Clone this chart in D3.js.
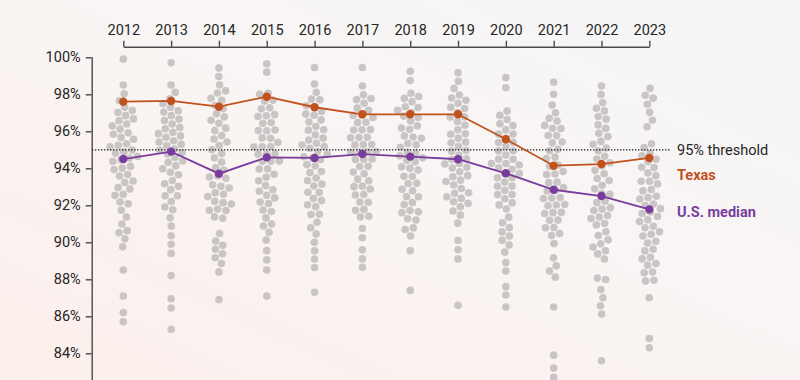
<!DOCTYPE html>
<html>
<head>
<meta charset="utf-8">
<script src="https://cdn.jsdelivr.net/npm/d3@7"></script>
<style>
  html, body { margin: 0; padding: 0; background: #f8f4f3; }
  svg { display: block; }
</style>
</head>
<body>
<svg id="chart" width="800" height="380"></svg>
<script>
// ---------- DATA ----------
const years = [2012, 2013, 2014, 2015, 2016, 2017, 2018, 2019, 2020, 2021, 2022, 2023];
const texas    = [97.6, 97.64, 97.33, 97.87, 97.3, 96.92, 96.92, 96.92, 95.57, 94.14, 94.23, 94.56];
const usMedian = [94.5, 94.9, 93.71, 94.59, 94.56, 94.77, 94.63, 94.49, 93.73, 92.84, 92.5, 91.78];
const threshold = 95;
const yTickValues = [84, 86, 88, 90, 92, 94, 96, 98, 100];

const states2012 = [99.9, 98.5, 98.0, 97.6, 97.2, 97.1, 96.9, 96.8, 96.6, 96.5, 96.4, 96.2, 96.1, 96.0, 95.8, 95.7, 95.5, 95.4, 95.3, 95.1, 95.0, 94.9, 94.8, 94.7, 94.6, 94.5, 94.4, 94.2, 94.1, 93.9, 93.7, 93.6, 93.4, 93.2, 93.0, 92.8, 92.6, 92.5, 92.3, 92.1, 91.7, 91.4, 91.0, 90.6, 90.5, 90.2, 89.8, 88.5, 87.1, 86.2, 85.7];
const states2013 = [99.7, 98.5, 98.0, 97.6, 97.4, 97.2, 97.1, 96.9, 96.8, 96.6, 96.5, 96.4, 96.2, 96.1, 96.0, 95.8, 95.7, 95.6, 95.5, 95.4, 95.3, 95.2, 95.1, 95.0, 94.95, 94.9, 94.8, 94.6, 94.4, 94.2, 94.0, 93.8, 93.6, 93.4, 93.2, 93.0, 92.8, 92.6, 92.4, 92.2, 92.0, 91.75, 91.35, 90.9, 90.35, 89.9, 89.4, 88.2, 86.95, 86.45, 85.3];
const states2014 = [99.4, 98.95, 98.5, 98.15, 98.05, 97.8, 97.6, 97.4, 97.2, 97.0, 96.8, 96.6, 96.4, 96.2, 96.0, 95.8, 95.6, 95.4, 95.2, 95.0, 94.8, 94.6, 94.3, 94.0, 93.8, 93.7, 93.6, 93.4, 93.2, 93.0, 92.9, 92.7, 92.6, 92.4, 92.3, 92.1, 92.0, 91.8, 91.75, 91.7, 91.45, 91.4, 90.45, 90.05, 89.85, 89.6, 89.4, 89.15, 88.9, 88.4, 86.9];
const states2015 = [99.65, 99.2, 98.0, 97.9, 97.7, 97.5, 97.3, 97.2, 97.0, 96.9, 96.7, 96.5, 96.4, 96.2, 96.0, 95.9, 95.7, 95.5, 95.4, 95.2, 95.1, 95.0, 94.9, 94.8, 94.7, 94.6, 94.5, 94.3, 94.1, 93.9, 93.7, 93.5, 93.3, 93.1, 92.9, 92.7, 92.5, 92.4, 92.2, 92.0, 91.75, 91.7, 91.4, 91.05, 90.85, 90.55, 90.15, 89.55, 89.05, 88.5, 87.1];
const states2016 = [99.45, 98.55, 98.0, 97.75, 97.6, 97.4, 97.25, 97.1, 96.9, 96.8, 96.6, 96.5, 96.3, 96.2, 96.0, 95.8, 95.7, 95.5, 95.4, 95.2, 95.1, 95.0, 94.9, 94.75, 94.65, 94.55, 94.45, 94.3, 94.1, 93.9, 93.7, 93.5, 93.4, 93.2, 93.0, 92.8, 92.6, 92.4, 92.3, 92.1, 91.95, 91.55, 91.5, 91.05, 90.8, 90.45, 90.0, 89.55, 89.1, 88.65, 87.3];
const states2017 = [99.45, 98.45, 97.8, 97.7, 97.6, 97.45, 97.3, 97.15, 97.0, 96.85, 96.7, 96.55, 96.4, 96.25, 96.1, 95.95, 95.8, 95.65, 95.5, 95.35, 95.2, 95.1, 95.0, 94.9, 94.85, 94.77, 94.65, 94.5, 94.35, 94.2, 94.0, 93.85, 93.7, 93.5, 93.35, 93.2, 93.0, 92.85, 92.65, 92.5, 92.3, 92.1, 91.75, 91.7, 91.5, 91.45, 90.75, 90.25, 89.6, 89.1, 88.65];
const states2018 = [99.25, 98.75, 98.0, 97.8, 97.7, 97.55, 97.4, 97.25, 97.1, 96.95, 96.8, 96.65, 96.5, 96.35, 96.2, 96.0, 95.85, 95.7, 95.55, 95.4, 95.25, 95.1, 94.95, 94.8, 94.7, 94.63, 94.5, 94.35, 94.2, 94.0, 93.8, 93.6, 93.45, 93.3, 93.1, 92.9, 92.75, 92.6, 92.4, 92.25, 92.05, 91.8, 91.65, 91.6, 91.3, 91.15, 90.85, 90.7, 90.35, 89.55, 87.4];
const states2019 = [99.15, 98.7, 98.25, 97.95, 97.75, 97.6, 97.45, 97.3, 97.15, 97.0, 96.85, 96.7, 96.5, 96.3, 96.1, 95.95, 95.8, 95.6, 95.45, 95.3, 95.1, 95.0, 94.85, 94.7, 94.55, 94.49, 94.4, 94.25, 94.1, 93.95, 93.8, 93.65, 93.5, 93.35, 93.2, 93.05, 92.9, 92.8, 92.65, 92.5, 92.4, 92.3, 92.15, 92.0, 91.7, 91.55, 91.05, 90.1, 89.6, 89.1, 86.6];
const states2020 = [98.9, 98.35, 97.05, 96.8, 96.6, 96.35, 96.2, 96.05, 95.9, 95.75, 95.6, 95.45, 95.3, 95.15, 95.0, 94.85, 94.7, 94.55, 94.45, 94.3, 94.2, 94.1, 94.0, 93.9, 93.8, 93.73, 93.6, 93.45, 93.3, 93.15, 93.0, 92.85, 92.7, 92.55, 92.4, 92.25, 92.05, 91.75, 91.45, 91.05, 90.8, 90.55, 90.35, 90.1, 89.85, 89.5, 88.9, 88.45, 87.6, 87.15, 86.5];
const states2021 = [98.65, 98.0, 97.35, 97.0, 96.6, 96.5, 96.35, 96.2, 96.0, 95.85, 95.7, 95.5, 95.3, 95.1, 94.9, 94.7, 94.5, 94.3, 94.1, 93.9, 93.7, 93.5, 93.3, 93.1, 92.95, 92.84, 92.7, 92.55, 92.45, 92.3, 92.15, 92.05, 91.8, 91.7, 91.55, 91.5, 91.3, 91.05, 91.0, 90.8, 90.55, 90.35, 89.95, 89.15, 88.7, 88.45, 88.15, 86.5, 83.9, 83.2, 82.7];
const states2022 = [98.45, 97.95, 97.5, 97.15, 97.1, 96.8, 96.75, 96.35, 96.1, 95.9, 95.7, 95.5, 95.3, 95.1, 94.9, 94.7, 94.5, 94.3, 94.1, 93.9, 93.7, 93.5, 93.3, 93.1, 92.9, 92.7, 92.4, 92.2, 92.0, 91.85, 91.7, 91.65, 91.6, 91.45, 91.35, 91.05, 90.95, 90.75, 90.4, 90.1, 89.85, 89.8, 89.6, 89.35, 89.15, 88.05, 88.0, 87.4, 87.0, 86.6, 86.15, 83.6];
const states2023 = [98.3, 97.95, 97.8, 97.4, 97.05, 96.6, 96.3, 95.3, 95.0, 94.75, 94.65, 94.45, 94.35, 94.1, 93.95, 93.8, 93.55, 93.4, 93.3, 93.15, 93.0, 92.7, 92.5, 92.35, 92.2, 92.05, 91.9, 91.75, 91.7, 91.55, 91.4, 91.25, 91.2, 90.85, 90.8, 90.75, 90.5, 90.4, 90.0, 89.9, 89.6, 89.5, 89.2, 89.1, 88.9, 88.85, 88.4, 88.35, 88.0, 87.95, 87.0, 84.8, 84.3];

const statesByYear = [states2012, states2013, states2014, states2015, states2016, states2017,
                      states2018, states2019, states2020, states2021, states2022, states2023];

// ---------- CHART ----------
const W = 800, H = 380;
const svg = d3.select("#chart");
const FONT = "Roboto, 'Noto Sans', sans-serif";
const TEXAS_C = "#c2521d";
const US_C = "#7a3d9e";
const DOT_C = "#c9c5c4";
const AXIS_C = "#4a4a4a";

// background gradient
const defs = svg.append("defs");
const grad = defs.append("linearGradient").attr("id", "bg")
  .attr("x1", "0").attr("y1", "1").attr("x2", "1").attr("y2", "0");
grad.append("stop").attr("offset", "0").attr("stop-color", "#fcefeb");
grad.append("stop").attr("offset", "0.55").attr("stop-color", "#f9f5f4");
grad.append("stop").attr("offset", "1").attr("stop-color", "#f5f5f6");
svg.append("rect").attr("width", W).attr("height", H).attr("fill", "url(#bg)");

const x = d3.scalePoint().domain(years).range([123.3, 649.3]);
const y = d3.scaleLinear().domain([100, 80]).range([57.3, 427.3]);

// top axis
const xAxis = svg.append("g")
  .attr("transform", "translate(0,46.7)")
  .call(d3.axisTop(x).tickSize(6).tickSizeOuter(0).tickPadding(6));
// left axis
const yAxis = svg.append("g")
  .attr("transform", "translate(91.7,0)")
  .call(d3.axisLeft(y).tickValues(yTickValues).tickFormat(d => d + "%")
        .tickSize(6).tickSizeOuter(0).tickPadding(5));

[xAxis, yAxis].forEach(g => {
  g.attr("font-family", FONT).attr("font-size", 14.5);
  g.select(".domain").attr("stroke", AXIS_C).attr("stroke-width", 1.4);
  g.selectAll(".tick line").attr("stroke", AXIS_C).attr("stroke-width", 1.4);
  g.selectAll(".tick text").attr("fill", "#262626");
});
// extend y axis line to bottom of the view
yAxis.select(".domain").attr("d", `M0.5,${y(100)}V${H + 5}`);

// beeswarm of states
const nodes = [];
statesByYear.forEach((vals, i) => {
  vals.forEach(v => nodes.push({ year: years[i], v, x: x(years[i]), y: y(v) }));
});
const sim = d3.forceSimulation(nodes)
  .force("x", d3.forceX(d => x(d.year)).strength(0.16))
  .force("y", d3.forceY(d => y(d.v)).strength(0.45))
  .force("collide", d3.forceCollide(4.2).iterations(4))
  .stop();
for (let i = 0; i < 400; i++) sim.tick();

svg.append("g").selectAll("circle").data(nodes).join("circle")
  .attr("cx", d => d.x).attr("cy", d => d.y).attr("r", 3.8)
  .attr("fill", DOT_C);

// threshold
svg.append("line")
  .attr("x1", 92).attr("x2", 671)
  .attr("y1", y(threshold)).attr("y2", y(threshold))
  .attr("stroke", "#222").attr("stroke-width", 1.3)
  .attr("stroke-dasharray", "1.4,1.6");
svg.append("text")
  .attr("x", 677).attr("y", y(threshold) + 5.5)
  .attr("font-family", FONT).attr("font-size", 14.5).attr("fill", "#262626")
  .text("95% threshold");

// lines
const line = d3.line().x((d, i) => x(years[i])).y(d => y(d));
function series(vals, color) {
  svg.append("path").datum(vals).attr("d", line)
    .attr("fill", "none").attr("stroke", color).attr("stroke-width", 1.8);
  svg.append("g").selectAll("circle").data(vals).join("circle")
    .attr("cx", (d, i) => x(years[i])).attr("cy", d => y(d)).attr("r", 4.2)
    .attr("fill", color);
}
series(usMedian, US_C);
series(texas, TEXAS_C);

svg.append("text")
  .attr("x", 677).attr("y", y(texas[texas.length - 1]) + 22.5)
  .attr("font-family", FONT).attr("font-weight", "bold").attr("font-size", 14.5)
  .attr("fill", TEXAS_C).text("Texas");
svg.append("text")
  .attr("x", 677).attr("y", y(usMedian[usMedian.length - 1]) + 8)
  .attr("font-family", FONT).attr("font-weight", "bold").attr("font-size", 14.5)
  .attr("fill", US_C).text("U.S. median");
</script>
</body>
</html>
